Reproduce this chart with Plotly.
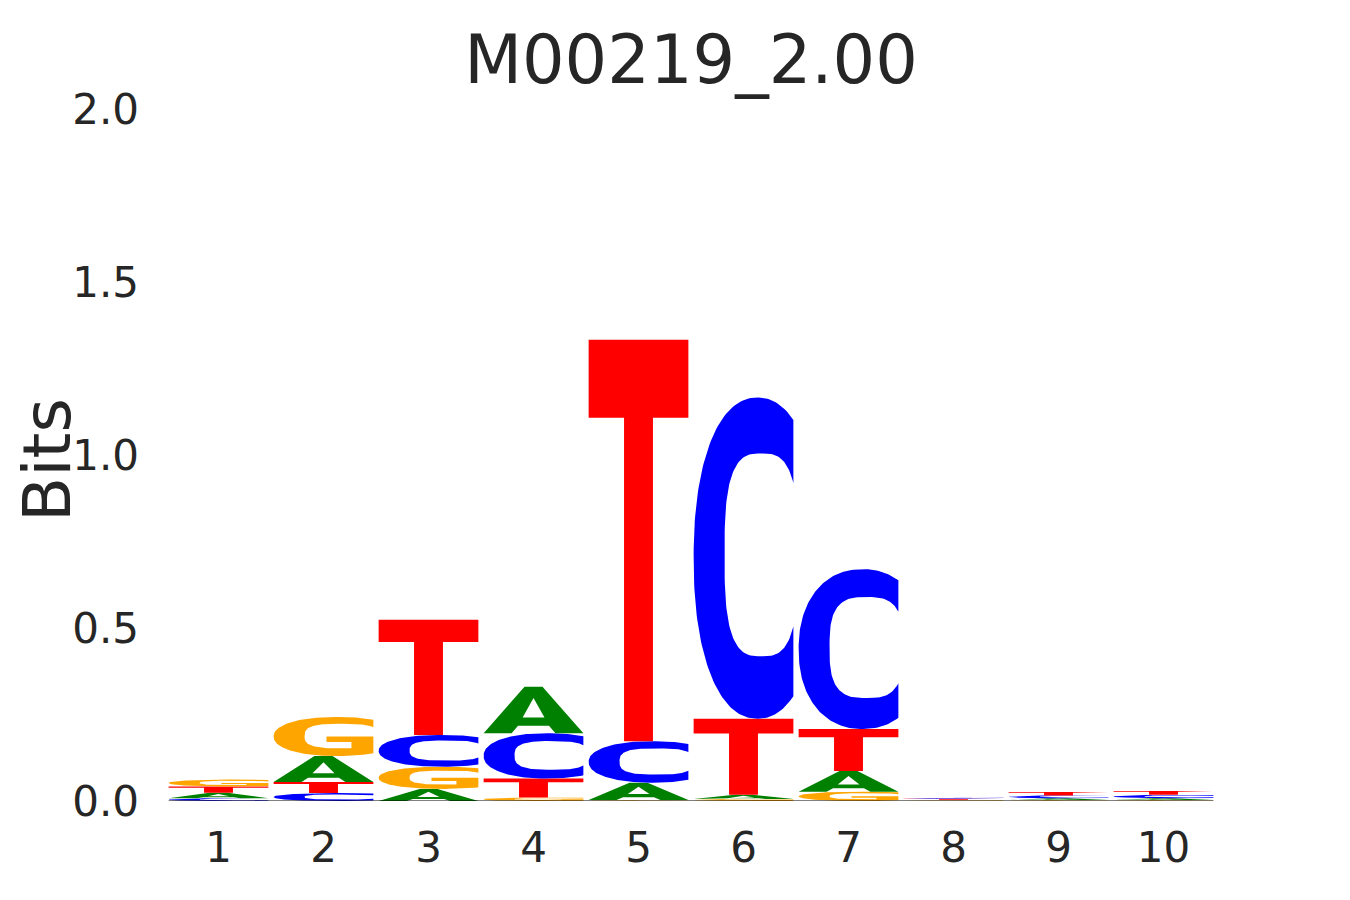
import numpy as np
import plotly.graph_objects as go

# ---------------- data ----------------
positions = [1, 2, 3, 4, 5, 6, 7, 8, 9, 10]
position_labels = ["1", "2", "3", "4", "5", "6", "7", "8", "9", "10"]
bits_A = [0.016, 0.075, 0.035, 0.134, 0.050, 0.012, 0.060, 0.002, 0.005, 0.005]
bits_C = [0.008, 0.023, 0.092, 0.131, 0.120, 0.928, 0.462, 0.0035, 0.008, 0.010]
bits_G = [0.020, 0.113, 0.064, 0.010, 0.003, 0.006, 0.027, 0.0015, 0.003, 0.003]
bits_T = [0.018, 0.032, 0.333, 0.055, 1.160, 0.220, 0.121, 0.003, 0.010, 0.011]
y_ticks = [0.0, 0.5, 1.0, 1.5, 2.0]
y_tick_labels = ["0.0", "0.5", "1.0", "1.5", "2.0"]
title_text = "M00219_2.00"
y_title = "Bits"

# ---------------- styles ----------------
COLORS = {"A": "#008000", "C": "#0000ff", "G": "#ffa500", "T": "#ff0000"}
LETTER_WIDTH = 0.95
FONT = "DejaVu Sans"
TEXT_COLOR = "#262626"
FIG_W, FIG_H = 1342, 892   # page body adds an 8px margin
M_L, M_R, M_T, M_B = 158, 134, 101, 99
PLOT_W = FIG_W - M_L - M_R
PLOT_H = FIG_H - M_T - M_B

# ---------------- glyph outlines in a unit box ----------------
OUT = (0.64, 0.5, 0.64, 0.5, 2.2)     # cx, cy, rx, ry, exponent
INN = (0.68, 0.51, 0.37, 0.316, 3.0)


def se(p, t):
    cx, cy, rx, ry, n = p
    c, s = np.cos(t), np.sin(t)
    return (cx + rx * np.sign(c) * np.abs(c) ** (2 / n),
            cy + ry * np.sign(s) * np.abs(s) ** (2 / n))


def t_at_x(p, x):
    cx, cy, rx, ry, n = p
    u = (x - cx) / rx
    return np.arccos(np.sign(u) * np.abs(u) ** (n / 2))


def glyph_C():
    to = t_at_x(OUT, 1.0)
    ti = t_at_x(INN, 1.0)
    xo, yo = se(OUT, np.linspace(to, 2 * np.pi - to, 140))
    xi, yi = se(INN, np.linspace(2 * np.pi - ti, ti, 120))
    xs = np.concatenate([xo, xi, xo[:1]])
    ys = np.concatenate([yo, yi, yo[:1]])
    return xs, ys


def glyph_G():
    to = t_at_x(OUT, 1.0)
    ti = t_at_x(INN, 1.0)
    t78 = t_at_x(INN, 0.78)
    xo, yo = se(OUT, np.linspace(to, 2 * np.pi - to, 140))
    bx = np.array([1.0, 0.53, 0.53, 0.78])
    by = np.array([0.5, 0.5, 0.36, 0.36])
    xi, yi = se(INN, np.linspace(2 * np.pi - t78, ti, 120))
    xs = np.concatenate([xo, bx, xi, xo[:1]])
    ys = np.concatenate([yo, by, yi, yo[:1]])
    return xs, ys


def glyph_A():
    pts = [(0, 0), (0.28, 0), (0.345, 0.16),
           (0.39, 0.34), (0.5, 0.76), (0.61, 0.34), (0.39, 0.34),  # counter (keyhole)
           (0.345, 0.16), (0.655, 0.16), (0.72, 0), (1, 0),
           (0.59, 1), (0.41, 1), (0, 0)]
    a = np.array(pts, dtype=float)
    return a[:, 0], a[:, 1]


def glyph_T():
    pts = [(0, 1), (1, 1), (1, 0.806), (0.645, 0.806), (0.645, 0),
           (0.355, 0), (0.355, 0.806), (0, 0.806), (0, 1)]
    a = np.array(pts, dtype=float)
    return a[:, 0], a[:, 1]


GLYPHS = {"A": glyph_A(), "C": glyph_C(), "G": glyph_G(), "T": glyph_T()}

# ---------------- figure ----------------
fig = go.Figure()
matrix = {"A": bits_A, "C": bits_C, "G": bits_G, "T": bits_T}

for i, pos in enumerate(positions):
    stack = sorted(((matrix[L][i], L) for L in "ACGT"), key=lambda v: v[0])
    y0 = 0.0
    for h, L in stack:
        gx, gy = GLYPHS[L]
        fig.add_trace(go.Scatter(
            x=pos - LETTER_WIDTH / 2 + gx * LETTER_WIDTH,
            y=y0 + gy * h,
            mode="lines", fill="toself", fillcolor=COLORS[L],
            line=dict(width=0, color=COLORS[L]),
            hoverinfo="skip", showlegend=False,
        ))
        y0 += h

# baseline
fig.add_trace(go.Scatter(
    x=[positions[0] - LETTER_WIDTH / 2, positions[-1] + LETTER_WIDTH / 2],
    y=[0, 0], mode="lines", line=dict(color="black", width=1),
    hoverinfo="skip", showlegend=False,
))

fig.update_layout(
    width=FIG_W, height=FIG_H,
    margin=dict(l=M_L, r=M_R, t=M_T, b=M_B, autoexpand=False),
    plot_bgcolor="white", paper_bgcolor="white",
    font=dict(family=FONT, color=TEXT_COLOR),
    title=dict(text=title_text, x=0.5, xref="paper", xanchor="center",
               y=1 - 52 / FIG_H, yref="container", yanchor="middle",
               font=dict(size=67, family=FONT, color=TEXT_COLOR)),
    annotations=[dict(
        text=y_title, textangle=-90, showarrow=False,
        xref="paper", yref="paper",
        x=(39 - M_L) / PLOT_W, y=1 - (452 - M_T) / PLOT_H,
        xanchor="center", yanchor="middle",
        font=dict(size=66, family=FONT, color=TEXT_COLOR),
    )],
)
fig.update_xaxes(
    range=[positions[0] - 0.5, positions[-1] + 0.5],
    tickmode="array", tickvals=positions, ticktext=position_labels,
    tickfont=dict(size=42, family=FONT, color=TEXT_COLOR),
    showgrid=False, zeroline=False, showline=False, ticks="",
    ticklabelstandoff=18, fixedrange=True, automargin=False,
)
fig.update_yaxes(
    range=[0, 2],
    tickmode="array", tickvals=y_ticks, ticktext=y_tick_labels,
    tickfont=dict(size=42, family=FONT, color=TEXT_COLOR),
    showgrid=False, zeroline=False, showline=False, ticks="",
    ticklabelstandoff=26, fixedrange=True, automargin=False,
)

fig.write_html("out.html")
